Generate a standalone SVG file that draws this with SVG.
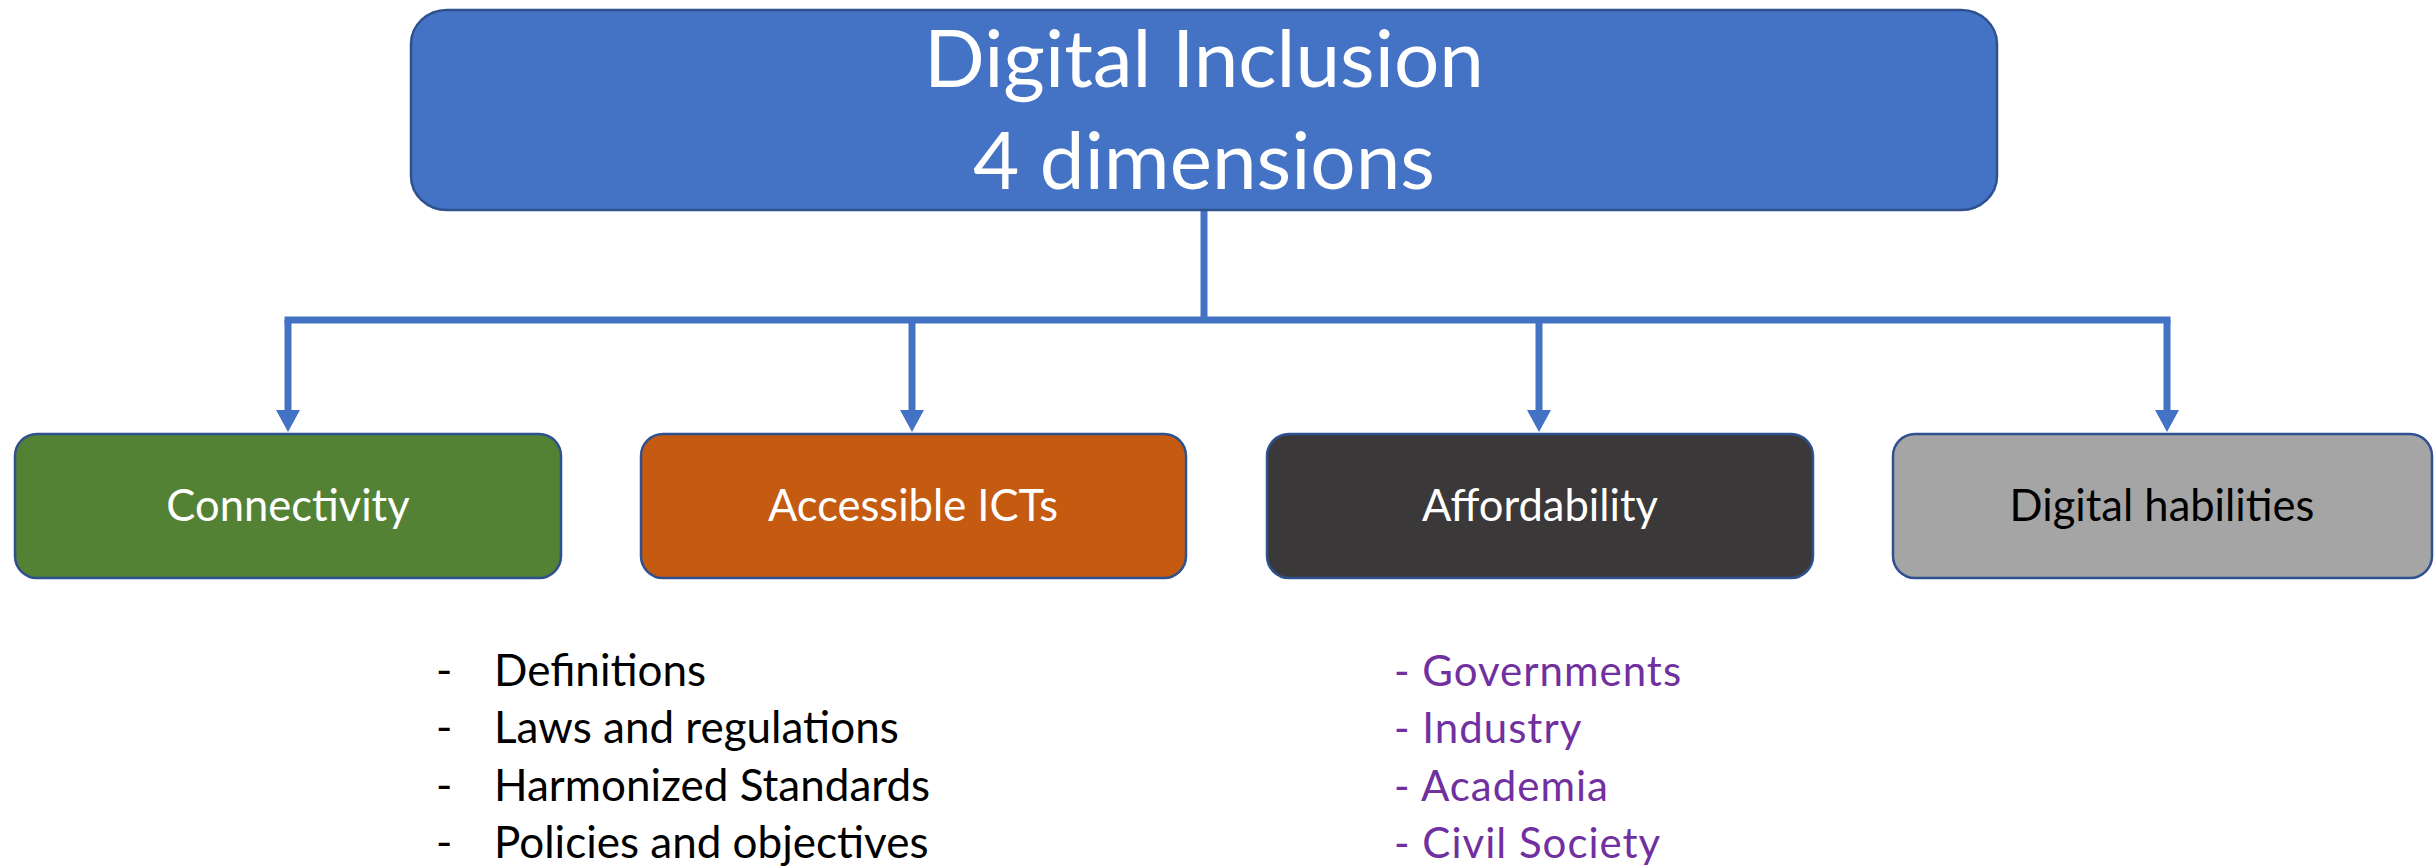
<svg xmlns="http://www.w3.org/2000/svg" width="2435" height="866" viewBox="0 0 2435 866">
  <defs>
    <style>
      .box { stroke: #2F528F; stroke-width: 2.5; }
      .lbl { font-family: Lato, "Open Sans", "Liberation Sans", sans-serif; text-anchor: middle; }
      .conn { stroke: #4472C4; stroke-width: 7; fill: none; }
      .list { font-family: Lato, "Open Sans", "Liberation Sans", sans-serif; }
    </style>
    <marker id="arr" markerUnits="userSpaceOnUse" markerWidth="24" markerHeight="24" viewBox="0 0 22 24" refX="0" refY="12" orient="auto">
      <path d="M0,0 L22,12 L0,24 z" fill="#4472C4"/>
    </marker>
  </defs>
  <rect width="2435" height="866" fill="#FFFFFF"/>

  <g id="connectors">
    <path class="conn" d="M1204 210 V320"/>
    <path class="conn" d="M284.5 320 H2170.5"/>
    <path class="conn" d="M288 320 V410" marker-end="url(#arr)"/>
    <path class="conn" d="M912 320 V410" marker-end="url(#arr)"/>
    <path class="conn" d="M1539 320 V410" marker-end="url(#arr)"/>
    <path class="conn" d="M2167 320 V410" marker-end="url(#arr)"/>
  </g>

  <g id="node-digital-inclusion">
    <rect class="box" x="411" y="10" width="1586" height="200" rx="36" ry="34" fill="#4472C4"/>
    <text class="lbl" x="1204" y="87" font-size="80" fill="#FFFFFF">Digital Inclusion</text>
    <text class="lbl" x="1204" y="189" font-size="80" fill="#FFFFFF">4 dimensions</text>
  </g>

  <g id="node-connectivity">
    <rect class="box" x="15" y="434" width="546" height="144" rx="22" ry="22" fill="#548235"/>
    <text class="lbl" x="288" y="521" font-size="43.5" fill="#FFFFFF">Connectivity</text>
  </g>

  <g id="node-accessible-icts">
    <rect class="box" x="641" y="434" width="545" height="144" rx="22" ry="22" fill="#C55A11"/>
    <text class="lbl" x="913" y="521" font-size="43.5" fill="#FFFFFF">Accessible ICTs</text>
  </g>

  <g id="node-affordability">
    <rect class="box" x="1267" y="434" width="546" height="144" rx="22" ry="22" fill="#3A3838"/>
    <text class="lbl" x="1540" y="521" font-size="43.5" fill="#FFFFFF">Affordability</text>
  </g>

  <g id="node-digital-habilities">
    <rect class="box" x="1893" y="434" width="539" height="144" rx="22" ry="22" fill="#A5A5A5"/>
    <text class="lbl" x="2162" y="521" font-size="43.5" fill="#000000">Digital habilities</text>
  </g>

  <g id="list-left" class="list" font-size="44" fill="#000000">
    <text x="436" y="686">-</text><text x="494" y="686">Definitions</text>
    <text x="436" y="743">-</text><text x="494" y="743">Laws and regulations</text>
    <text x="436" y="801">-</text><text x="494" y="801">Harmonized Standards</text>
    <text x="436" y="858">-</text><text x="494" y="858">Policies and objectives</text>
  </g>

  <g id="list-right" class="list" font-size="42" fill="#7030A0" letter-spacing="1">
    <text x="1394" y="686">- Governments</text>
    <text x="1394" y="743">- Industry</text>
    <text x="1394" y="801">- Academia</text>
    <text x="1394" y="858">- Civil Society</text>
  </g>
</svg>
